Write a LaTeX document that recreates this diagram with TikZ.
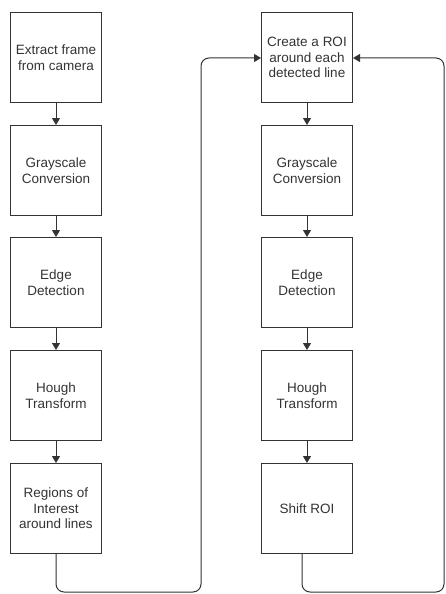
\documentclass[tikz,border=0pt]{standalone}
\usepackage{fontspec}
\setmainfont{Liberation Sans}
\usetikzlibrary{arrows.meta}
\definecolor{boxline}{HTML}{333333}
\definecolor{txt}{HTML}{333333}
\tikzset{
  x=1pt,y=-1pt,
  stepbox/.style={draw=boxline,line width=1pt,minimum width=91pt,minimum height=90pt,inner sep=2pt,
    align=center,text=txt,font=\fontsize{13.5}{15.5}\selectfont,anchor=north west},
  flow/.style={draw=boxline,line width=1pt,-{Triangle[length=7pt,width=8pt]}},
  loop/.style={flow,rounded corners=8pt}
}
\begin{document}
\begin{tikzpicture}
\useasboundingbox (0,0) rectangle (445,594);
\node[stepbox] (l1) at (10,12) {Extract frame\\from camera};
\node[stepbox] (l2) at (10,125) {Grayscale\\Conversion};
\node[stepbox] (l3) at (10,237) {Edge\\Detection};
\node[stepbox] (l4) at (10,350) {Hough\\Transform};
\node[stepbox] (l5) at (10,463) {Regions of\\Interest\\around lines};
\node[stepbox] (r1) at (261,12) {Create a ROI\\around each\\detected line};
\node[stepbox] (r2) at (261,125) {Grayscale\\Conversion};
\node[stepbox] (r3) at (261,237) {Edge\\Detection};
\node[stepbox] (r4) at (261,350) {Hough\\Transform};
\node[stepbox] (r5) at (261,463) {Shift ROI};
\foreach \a/\b in {l1/l2,l2/l3,l3/l4,l4/l5,r1/r2,r2/r3,r3/r4,r4/r5}
  \draw[flow] (\a.south) -- (\b.north);
\coordinate (la) at (l5.south |- 0,592);
\coordinate (lb) at (201,592);
\coordinate (lc) at (201,58);
\draw[loop] (l5.south) -- (la) -- (lb) -- (lc) -- (lc -| r1.west);
\coordinate (rs) at ([xshift=-5pt]r5.south);
\coordinate (ra) at (rs |- 0,592);
\coordinate (rb) at (444,592);
\coordinate (rc) at (444,58);
\draw[loop] (rs) -- (ra) -- (rb) -- (rc) -- (rc -| r1.east);
\end{tikzpicture}
\end{document}
